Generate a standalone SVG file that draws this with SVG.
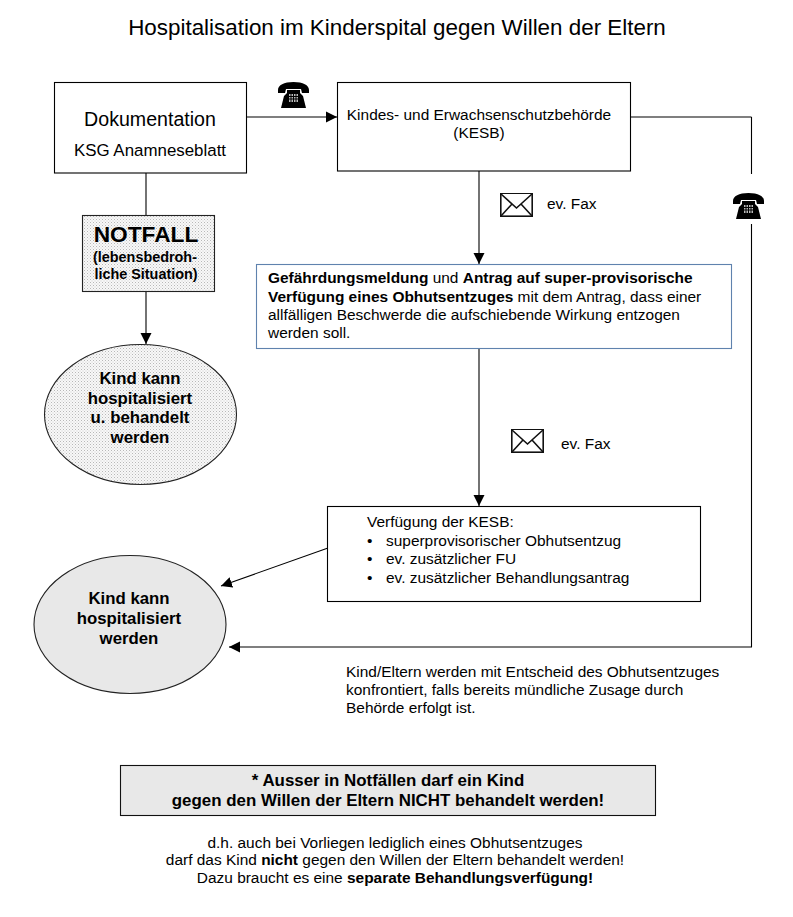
<svg xmlns="http://www.w3.org/2000/svg" width="793" height="917" viewBox="0 0 793 917">
<style>
text{font-family:"Liberation Sans",Arial,sans-serif;fill:#000}
.b{font-weight:bold}
.m{text-anchor:middle}
.s14{font-size:15.45px}
.e{font-size:16.8px}
.s{fill:#fff;stroke:#000;stroke-width:1.1}
.c{fill:none;stroke:#000;stroke-width:1.1}
.env{fill:#fff;stroke:#111;stroke-width:1.6}
.ph{fill:#000}
</style>
<defs>
<pattern id="dots" width="3" height="3" patternUnits="userSpaceOnUse">
<rect width="3" height="3" fill="#f8f8f8"/>
<rect x="0" y="0" width="1" height="1" fill="#b8b8b8"/>
<rect x="1.5" y="1.5" width="1" height="1" fill="#cfcfcf"/>
</pattern>
<marker id="arr" markerUnits="userSpaceOnUse" markerWidth="12" markerHeight="12" refX="11" refY="6" orient="auto">
<path d="M0 0.500L11 6L0 11.500Z" fill="#000"/>
</marker>
<g id="phone">
<path class="ph" d="M0 8C0 3 6 0 15.500 0S31 3 31 8L31 11L24 11L23 7L8 7L7 11L0 11Z"/>
<path class="ph" d="M9 8L22 8L22 11L25 14L28 26L3 26L6 14L9 11Z"/>
<rect x="11" y="12" width="9" height="8" fill="#bbb"/>
<path d="M13 12V20M15.500 12V20M18 12V20M11 14.500H20M11 17H20" stroke="#000" stroke-width="1"/>
</g>
<g id="env">
<rect class="env" x="0.800" y="0.800" width="31.400" height="22.400"/>
<path class="env" d="M1 1L16.500 15L32 1M1 23L12 11M32 23L21 11"/>
</g>
</defs>

<text class="m" x="397" y="35" font-size="22.4">Hospitalisation im Kinderspital gegen Willen der Eltern</text>

<g id="connectors">
<path class="c" d="M247 117H337" marker-end="url(#arr)"/>
<path class="c" d="M146 173V215"/>
<path class="c" d="M146 291V344" marker-end="url(#arr)"/>
<path class="c" d="M479 171V264" marker-end="url(#arr)"/>
<path class="c" d="M479 348V506" marker-end="url(#arr)"/>
<path class="c" d="M328 548L221 586" marker-end="url(#arr)"/>
<path class="c" d="M631 117H751.500M751.500 117V174"/>
<path class="c" d="M751.500 224V647H229" marker-end="url(#arr)"/>
</g>

<g id="dokumentation">
<rect class="s" x="54.500" y="82.500" width="192" height="90.500"/>
<text class="m" x="150" y="126" font-size="19.600">Dokumentation</text>
<text class="m" x="150" y="156" font-size="16.900">KSG Anamneseblatt</text>
</g>
<g id="kesb">
<rect class="s" x="337.500" y="82.500" width="293" height="88.500"/>
<text class="m s14" x="479" y="120">Kindes- und Erwachsenschutzbehörde</text>
<text class="m s14" x="479" y="138">(KESB)</text>
</g>
<g id="notfall">
<rect x="82.500" y="215.500" width="132" height="76" fill="url(#dots)" stroke="#222" stroke-width="1.100"/>
<text class="m b" x="146" y="242" font-size="22.700">NOTFALL</text>
<text class="m b" x="145" y="262" font-size="14.400">(lebensbedroh-</text>
<text class="m b" x="146" y="279" font-size="14.400">liche Situation)</text>
</g>
<g id="kind-behandelt">
<ellipse cx="140.500" cy="414.500" rx="96" ry="70" fill="url(#dots)" stroke="#222" stroke-width="1.100"/>
<text class="m b e" x="140" y="384">Kind kann</text>
<text class="m b e" x="140" y="404">hospitalisiert</text>
<text class="m b e" x="140" y="423">u. behandelt</text>
<text class="m b e" x="140" y="443">werden</text>
</g>
<g id="gefaehrdung">
<rect x="256.500" y="264.500" width="475" height="84" fill="#fff" stroke="#5f82ae" stroke-width="1.100"/>
<text class="s14" x="268" y="283"><tspan class="b">Gefährdungsmeldung</tspan> und <tspan class="b">Antrag auf super-provisorische</tspan></text>
<text class="s14" x="268" y="302"><tspan class="b">Verfügung eines Obhutsentzuges</tspan> mit dem Antrag, dass einer</text>
<text class="s14" x="268" y="320">allfälligen Beschwerde die aufschiebende Wirkung entzogen</text>
<text class="s14" x="268" y="338">werden soll.</text>
</g>
<g id="verfuegung">
<rect class="s" x="327.500" y="506.500" width="373" height="95"/>
<text class="s14" x="367" y="527">Verfügung der KESB:</text>
<text class="s14" x="367" y="546">•</text><text class="s14" x="386" y="546">superprovisorischer Obhutsentzug</text>
<text class="s14" x="367" y="564">•</text><text class="s14" x="386" y="564">ev. zusätzlicher FU</text>
<text class="s14" x="367" y="583">•</text><text class="s14" x="386" y="583">ev. zusätzlicher Behandlungsantrag</text>
</g>
<g id="kind-hospitalisiert">
<ellipse cx="130" cy="624.500" rx="96" ry="69" fill="#e8e8e8" stroke="#222" stroke-width="1.100"/>
<text class="m b e" x="129" y="604">Kind kann</text>
<text class="m b e" x="129" y="624">hospitalisiert</text>
<text class="m b e" x="129" y="644">werden</text>
</g>
<g id="hinweis-box">
<rect x="120.500" y="765.500" width="535" height="50" fill="#e8e8e8" stroke="#111" stroke-width="1.100"/>
<text class="m b" x="388" y="786" font-size="16.900">* Ausser in Notfällen darf ein Kind</text>
<text class="m b" x="388" y="806" font-size="16.900">gegen den Willen der Eltern NICHT behandelt werden!</text>
</g>

<g id="icons">
<use href="#phone" x="278" y="82"/>
<use href="#phone" x="733" y="193"/>
<use href="#env" x="500" y="193"/>
<use href="#env" x="511" y="429"/>
</g>
<text class="s14" x="547" y="209">ev. Fax</text>
<text class="s14" x="561" y="449">ev. Fax</text>

<g id="notes">
<text class="s14" x="346" y="677">Kind/Eltern werden mit Entscheid des Obhutsentzuges</text>
<text class="s14" x="346" y="695">konfrontiert, falls bereits mündliche Zusage durch</text>
<text class="s14" x="346" y="713">Behörde erfolgt ist.</text>
<text class="m s14" x="395" y="848">d.h. auch bei Vorliegen lediglich eines Obhutsentzuges</text>
<text class="m s14" x="395" y="865">darf das Kind <tspan class="b">nicht</tspan> gegen den Willen der Eltern behandelt werden!</text>
<text class="m s14" x="395" y="883">Dazu braucht es eine <tspan class="b">separate Behandlungsverfügung!</tspan></text>
</g>
</svg>
